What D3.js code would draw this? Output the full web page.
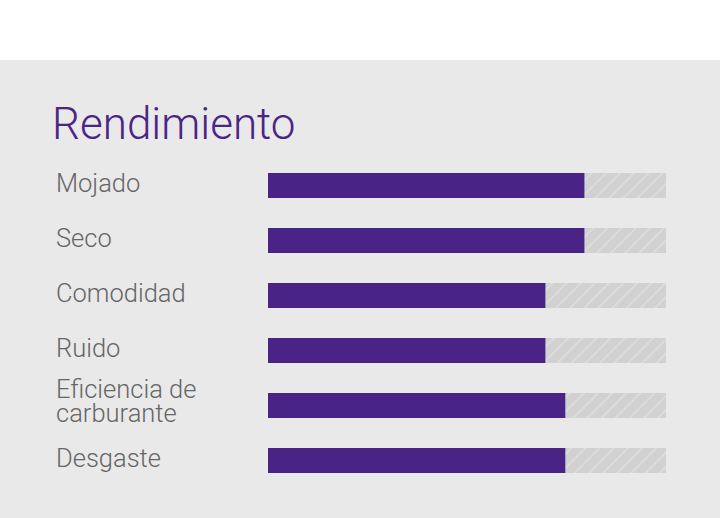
<!DOCTYPE html>
<html><head><meta charset="utf-8">
<script src="https://cdn.jsdelivr.net/npm/d3@7"></script>
<style>html,body{margin:0;padding:0;background:#fff;}svg{display:block;}</style>
</head><body>
<script>
const title = "Rendimiento";
const categories = ["Mojado", "Seco", "Comodidad", "Ruido", "Eficiencia de\ncarburante", "Desgaste"];
const values = [7.95, 7.95, 6.97, 6.97, 7.47, 7.47];
const maxValue = 10;

const W = 720, H = 518;
const svg = d3.select("body").append("svg").attr("width", W).attr("height", H);
const defs = svg.append("defs");
const pat = defs.append("pattern").attr("id", "hatch").attr("patternUnits", "userSpaceOnUse")
  .attr("width", 10).attr("height", 10).attr("patternTransform", "rotate(45)");
pat.append("rect").attr("width", 10).attr("height", 10).attr("fill", "#d1d1d1");
pat.append("rect").attr("x", 0).attr("width", 1.6).attr("height", 10).attr("fill", "#dedede");

svg.append("rect").attr("x", 0).attr("y", 60).attr("width", W).attr("height", H - 60).attr("fill", "#e9e9e9");

svg.append("text").attr("x", 52).attr("y", 139).text(title)
  .attr("font-family", "Roboto").attr("font-weight", 300).attr("font-size", 44).attr("fill", "#4a2487");

const x = d3.scaleLinear().domain([0, maxValue]).range([268, 666]);
const y2 = d3.scalePoint().domain(categories).range([173, 448]);
const bh = 25;

const g = svg.append("g");
g.selectAll("rect.track").data(categories).join("rect").attr("class", "track")
  .attr("x", x(0)).attr("y", d => y2(d)).attr("width", x(maxValue) - x(0)).attr("height", bh)
  .attr("fill", "url(#hatch)");
g.selectAll("rect.bar").data(values).join("rect").attr("class", "bar")
  .attr("x", x(0)).attr("y", (d, i) => y2(categories[i])).attr("width", d => x(d) - x(0)).attr("height", bh)
  .attr("fill", "#4a2387");

const labels = g.selectAll("text.lbl").data(categories).join("text").attr("class", "lbl")
  .attr("x", 56).attr("font-family", "Roboto").attr("font-weight", 300).attr("font-size", 25.5).attr("fill", "#666");
labels.each(function(d) {
  const lines = d.split("\n");
  const t = d3.select(this);
  const base = y2(d) + 19;
  const lh = 24;
  lines.forEach((l, i) => t.append("tspan").attr("x", 56)
    .attr("y", lines.length > 1 ? (base - 14 + i * lh) : base).text(l));
});
</script>
</body></html>
